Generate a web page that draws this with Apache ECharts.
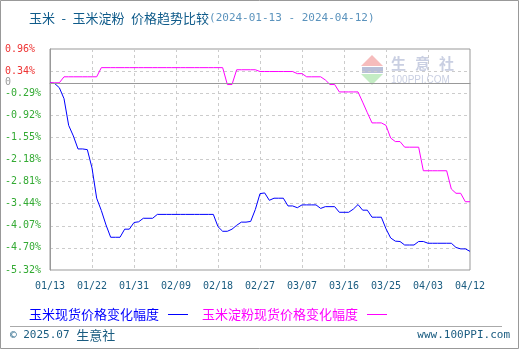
<!DOCTYPE html>
<html>
<head>
<meta charset="utf-8">
<script src="https://cdn.jsdelivr.net/npm/echarts@6/dist/echarts.min.js"></script>
<style>
html,body{margin:0;padding:0;background:#fff;}
#c{width:520px;height:350px;}
</style>
</head>
<body>
<div id="c"></div>
<script>
// ---- data ----
const startDate = [2024, 0, 13];
const dayCount = 91;
const seriesNames = ['玉米现货价格变化幅度', '玉米淀粉现货价格变化幅度'];
const cornSpot = [
  0, -0.02, -0.14, -0.45, -1.21, -1.51, -1.88, -1.88, -1.90, -2.42,
  -3.28, -3.63, -4.04, -4.39, -4.39, -4.39, -4.16, -4.16, -3.97, -3.95,
  -3.85, -3.85, -3.85, -3.74, -3.74, -3.74, -3.74, -3.74, -3.74, -3.74,
  -3.74, -3.74, -3.74, -3.74, -3.74, -3.74, -4.09, -4.22, -4.22, -4.16,
  -4.05, -3.96, -3.96, -3.94, -3.60, -3.15, -3.13, -3.34, -3.28, -3.28,
  -3.28, -3.50, -3.50, -3.55, -3.47, -3.47, -3.47, -3.47, -3.57, -3.52,
  -3.52, -3.52, -3.68, -3.68, -3.68, -3.59, -3.46, -3.62, -3.62, -3.82,
  -3.82, -3.82, -4.15, -4.41, -4.50, -4.51, -4.61, -4.61, -4.61, -4.51,
  -4.51, -4.56, -4.56, -4.56, -4.56, -4.56, -4.56, -4.68, -4.72, -4.72,
  -4.79
];
const starchSpot = [
  0, 0, 0, 0.17, 0.17, 0.17, 0.17, 0.17, 0.17, 0.17,
  0.17, 0.43, 0.43, 0.43, 0.43, 0.43, 0.43, 0.43, 0.43, 0.43,
  0.43, 0.43, 0.43, 0.43, 0.43, 0.43, 0.43, 0.43, 0.43, 0.43,
  0.43, 0.43, 0.43, 0.43, 0.43, 0.43, 0.43, 0.43, -0.05, -0.05,
  0.37, 0.37, 0.37, 0.37, 0.37, 0.32, 0.32, 0.32, 0.32, 0.32,
  0.32, 0.32, 0.32, 0.26, 0.26, 0.17, 0.17, 0.17, 0.17, 0.08,
  -0.05, -0.05, -0.26, -0.26, -0.26, -0.26, -0.26, -0.55, -0.85, -1.14,
  -1.14, -1.14, -1.21, -1.57, -1.67, -1.67, -1.83, -1.83, -1.83, -1.83,
  -2.50, -2.50, -2.50, -2.50, -2.50, -2.50, -3.02, -3.14, -3.14, -3.38,
  -3.38
];
const yTickValues = [0.96, 0.332, 0, -0.296, -0.924, -1.552, -2.18, -2.808, -3.436, -4.064, -4.692, -5.32];
const yTickLabels = ['0.96%', '0.34%', '0', '-0.29%', '-0.92%', '-1.55%', '-2.18%', '-2.81%', '-3.44%', '-4.07%', '-4.70%', '-5.32%'];

// categories (calendar days)
const categories = [];
for (let i = 0; i < dayCount; i++) {
  const d = new Date(Date.UTC(startDate[0], startDate[1], startDate[2] + i));
  const mm = String(d.getUTCMonth() + 1).padStart(2, '0');
  const dd = String(d.getUTCDate()).padStart(2, '0');
  categories.push(mm + '/' + dd);
}

const cjk = '"Noto Sans CJK SC", sans-serif';
const mono = '"DejaVu Sans Mono", monospace';
const teal = '#1a5c80';

const chart = echarts.init(document.getElementById('c'), null, {renderer: 'canvas'});
chart.setOption({
  animation: false,
  backgroundColor: '#fff',
  title: {
    left: 24, top: 7,
    text: '{a|玉米\u2002-\u2002玉米淀粉\u2002价格趋势比较}{b|(2024-01-13 - 2024-04-12)}',
    textStyle: {
      fontWeight: 'normal',
      rich: {
        a: {fontSize: 13, fontFamily: cjk, color: '#0f5b8a', fontWeight: 'normal'},
        b: {fontSize: 11, fontFamily: mono, color: '#5b93bd', fontWeight: 'normal'}
      }
    }
  },
  grid: {left: 50, right: 50, top: 49, bottom: 80, show: true, borderColor: '#999', borderWidth: 1, backgroundColor: 'transparent'},
  legend: {
    left: 24, top: 303, align: 'right', itemWidth: 20, itemHeight: 1, itemGap: 14,
    icon: 'rect',
    data: [
      {name: seriesNames[0], textStyle: {color: '#0000ff'}},
      {name: seriesNames[1], textStyle: {color: '#ff00ff'}}
    ],
    textStyle: {fontSize: 13, fontFamily: cjk, padding: [0, 4, 0, 0]}
  },
  xAxis: {
    type: 'category', data: categories, boundaryGap: false,
    axisLine: {lineStyle: {color: '#999'}},
    axisTick: {show: false},
    axisLabel: {interval: 8, color: teal, fontFamily: mono, fontSize: 10, margin: 11},
    splitLine: {show: true, interval: 8, lineStyle: {color: '#ccc', type: [3, 3]}}
  },
  yAxis: {
    type: 'value', min: -5.32, max: 0.96, interval: 0.628,
    axisLine: {show: true, lineStyle: {color: '#999'}},
    axisTick: {show: false},
    splitLine: {show: true, lineStyle: {color: '#ccc', type: [3, 3]}},
    axisLabel: {
      customValues: yTickValues,
      align: 'left', margin: 45, fontFamily: mono, fontSize: 10,
      formatter: function (v) {
        for (let i = 0; i < yTickValues.length; i++) {
          if (Math.abs(yTickValues[i] - v) < 1e-6) return yTickLabels[i];
        }
        return '';
      },
      color: function (v) {
        const n = Number(v);
        if (n > 1e-9) return '#ee3333';
        if (n < -1e-9) return '#33aa33';
        return '#999999';
      }
    }
  },
  series: [
    {
      name: seriesNames[0], type: 'line', data: cornSpot, symbol: 'none',
      lineStyle: {color: '#0000ff', width: 1}, itemStyle: {color: '#0000ff'}, z: 3,
      markLine: {
        silent: true, symbol: ['none', 'none'], label: {show: false},
        lineStyle: {color: '#999', type: 'solid', width: 1},
        data: [{yAxis: 0}]
      }
    },
    {
      name: seriesNames[1], type: 'line', data: starchSpot, symbol: 'none',
      lineStyle: {color: '#ff00ff', width: 1}, itemStyle: {color: '#ff00ff'}, z: 3
    }
  ],
  graphic: [
    {type: 'rect', silent: true, shape: {x: 0.5, y: 0.5, width: 518, height: 348}, style: {fill: 'none', stroke: '#999', lineWidth: 1}, z: -1},
    {type: 'line', silent: true, shape: {x1: 10, y1: 326.5, x2: 502, y2: 326.5}, style: {stroke: '#aaa', lineWidth: 1}},
    {type: 'text', silent: true, left: 10, top: 329, style: {text: '{m|© 2025.07 }{c|生意社}', rich: {m: {fontFamily: mono, fontSize: 11, fill: teal}, c: {fontFamily: cjk, fontSize: 13, fill: teal}}}},
    {type: 'text', silent: true, right: 10, top: 330, style: {text: 'www.100PPI.com', fontFamily: mono, fontSize: 11, fill: teal}},
    // watermark
    {type: 'polygon', silent: true, shape: {points: [[372, 55], [361, 66], [383, 66]]}, style: {fill: '#f6bcbc'}},
    {type: 'rect', silent: true, shape: {x: 362, y: 67, width: 21, height: 6}, style: {fill: '#b9bfd8'}},
    {type: 'polygon', silent: true, shape: {points: [[361, 74], [383, 74], [372, 85]]}, style: {fill: '#c4ecc4'}},
    {type: 'text', silent: true, left: 391, top: 56, style: {text: '生', fontFamily: cjk, fontSize: 15, fontWeight: 'bold', fill: '#c9cfe2'}},
    {type: 'text', silent: true, left: 415, top: 56, style: {text: '意', fontFamily: cjk, fontSize: 15, fontWeight: 'bold', fill: '#c9cfe2'}},
    {type: 'text', silent: true, left: 439, top: 56, style: {text: '社', fontFamily: cjk, fontSize: 15, fontWeight: 'bold', fill: '#c9cfe2'}},
    {type: 'text', silent: true, left: 391, top: 75, style: {text: '100PPI.COM', fontFamily: '"Liberation Sans", sans-serif', fontSize: 10, fill: '#c9cfe2'}}
  ]
});
</script>
</body>
</html>
